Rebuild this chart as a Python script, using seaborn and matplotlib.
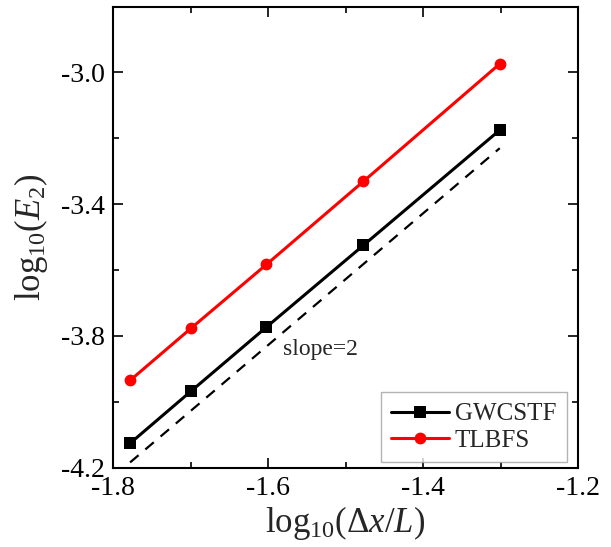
import matplotlib
matplotlib.use("Agg")
import matplotlib.pyplot as plt
from matplotlib.ticker import MultipleLocator, FuncFormatter
import seaborn as sns
import pandas as pd

# Grid spacing (log10 of dx/L) and L2 errors for the two schemes
log_dx = [-1.778, -1.699, -1.602, -1.477, -1.301]
gwcstf_err = [-4.126, -3.967, -3.773, -3.525, -3.175]
tlbfs_err = [-3.935, -3.776, -3.583, -3.331, -2.974]

# Second-order reference line
ref_x = [-1.778, -1.301]
ref_y = [-4.184, -3.230]

sns.set_style("ticks")
plt.rcParams["font.family"] = ["Liberation Serif", "DejaVu Serif"]
plt.rcParams["mathtext.fontset"] = "custom"
plt.rcParams["mathtext.rm"] = "Liberation Serif"
plt.rcParams["mathtext.it"] = "Liberation Serif:italic"
plt.rcParams["mathtext.bf"] = "Liberation Serif:bold"

df = pd.DataFrame({
    "x": log_dx * 2,
    "y": gwcstf_err + tlbfs_err,
    "scheme": ["GWCSTF"] * len(log_dx) + ["TLBFS"] * len(log_dx),
})

fig = plt.figure(figsize=(6.11, 5.47), dpi=100)
ax = fig.add_axes([0.185, 0.145, 0.761, 0.843])

sns.lineplot(data=df, x="x", y="y", hue="scheme", style="scheme",
             palette={"GWCSTF": "black", "TLBFS": "#ff0000"},
             markers={"GWCSTF": "s", "TLBFS": "o"}, dashes=False,
             markersize=8.5, markeredgewidth=0, linewidth=2.2, ax=ax)
sns.lineplot(x=ref_x, y=ref_y, color="black", linestyle=(0, (5, 4)),
             linewidth=1.6, ax=ax, legend=False)

ax.text(-1.581, -3.84, "slope=2", fontsize=17, ha="left", va="center")

ax.set_xlim(-1.8, -1.2)
ax.set_ylim(-4.2, -2.8)
ax.xaxis.set_major_locator(MultipleLocator(0.2))
ax.xaxis.set_minor_locator(MultipleLocator(0.1))
ax.set_yticks([-4.2, -3.8, -3.4, -3.0])
ax.yaxis.set_minor_locator(MultipleLocator(0.2))
fmt = FuncFormatter(lambda v, p: f"{v:.1f}".replace("\u2212", "-"))
ax.xaxis.set_major_formatter(fmt)
ax.yaxis.set_major_formatter(fmt)

ax.tick_params(which="both", direction="in", top=True, right=True,
               width=1.2, colors="black", labelsize=20)
ax.tick_params(which="major", length=7, pad=6)
ax.tick_params(which="minor", length=4)
for s in ax.spines.values():
    s.set_linewidth(1.5)
    s.set_color("black")

ax.set_xlabel(r"$\mathrm{log}_{10}(\Delta x/L)$", fontsize=25, labelpad=2)
ax.set_ylabel(r"$\mathrm{log}_{10}(E_2)$", fontsize=25, labelpad=8)

leg = ax.legend(loc="lower right", fontsize=18, frameon=True, fancybox=False,
                edgecolor="#a0a0a0", handlelength=2.3, handletextpad=0.25,
                borderpad=0.42, labelspacing=0.15, borderaxespad=0,
                bbox_to_anchor=(0.976, 0.012), title=None)
leg.get_frame().set_linewidth(1.0)

fig.savefig("out.png", dpi=100)
